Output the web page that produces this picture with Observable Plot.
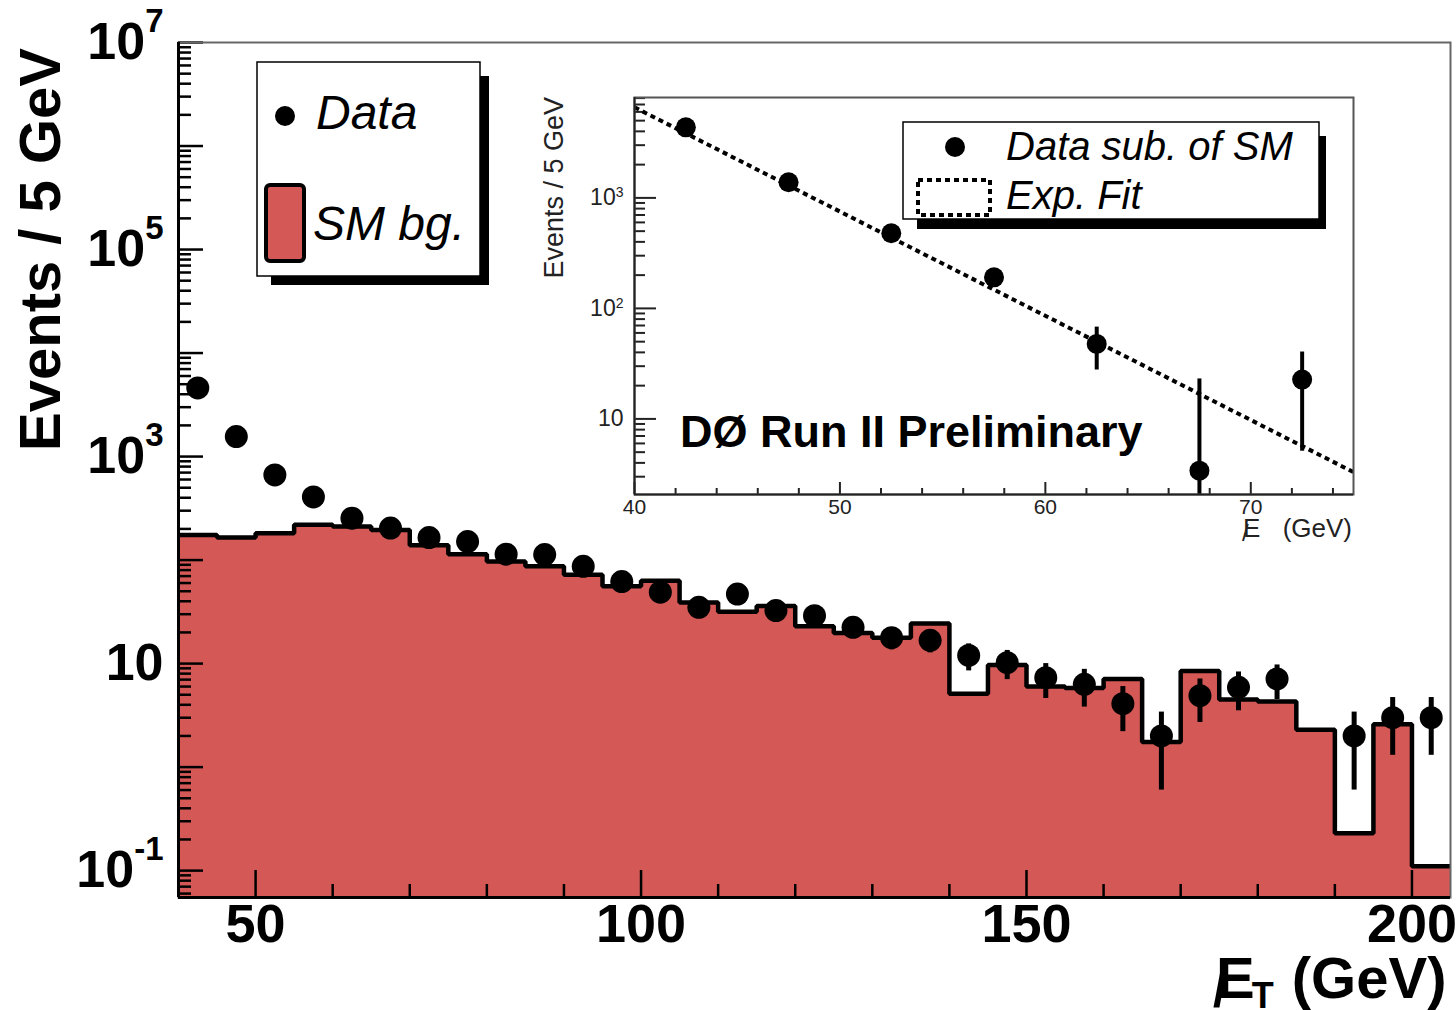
<!DOCTYPE html>
<html>
<head>
<meta charset="utf-8">
<script src="https://cdn.jsdelivr.net/npm/d3@7"></script>
<script src="https://cdn.jsdelivr.net/npm/@observablehq/plot@0.6"></script>
<style>
  body { margin: 0; background: #fff; }
  #wrap { position: relative; width: 1456px; height: 1010px; overflow: hidden; }
  #inset { position: absolute; left: 520px; top: 85px; }
</style>
</head>
<body>
<div id="wrap"><div id="main"></div><div id="inset"></div></div>
<script>
// ---- Missing-ET spectrum, 5 GeV bins ----
const binLow = [40, 45, 50, 55, 60, 65, 70, 75, 80, 85, 90, 95, 100, 105, 110, 115, 120,
                125, 130, 135, 140, 145, 150, 155, 160, 165, 170, 175, 180, 185, 190, 195, 200];
const binWidth = 5;
// Standard-model background expectation per bin
const smBg = [175, 165, 182, 219, 211, 195, 139, 114, 97, 87, 72, 56, 63, 39, 31.6, 36, 23,
              19.7, 17.8, 24.4, 5.1, 9.7, 6.0, 5.8, 7.1, 1.75, 8.5, 4.5, 4.3, 2.3, 0.23, 2.6, 0.11];
// Observed events per bin (null = empty bin) and their uncertainties
const dataCounts = [4600, 1560, 665, 407, 254, 204, 165, 151, 114, 113, 87, 62, 49, 35, 47, 32.5, 29,
                    22.4, 17.8, 16.8, 12, 10.2, 7.3, 6.3, 4.1, 2.0, 4.9, 5.9, 7.1, null, 2.0, 3.0, 3.0];
const dataErr = [68, 39, 26, 20, 16, 14, 13, 12, 11, 11, 9.4, 7.9, 7, 5.9, 6.9, 5.7, 5.4,
                 4.7, 4.2, 4.1, 3.5, 3.2, 2.7, 2.5, 1.9, 1.4, 2.2, 2.4, 2.6, null, 1.4, 1.7, 1.7];
const xTickLabels = [50, 100, 150, 200];
const yTickLabels = [1e7, 1e5, 1e3, 10, 0.1];

// ---- Inset: data minus SM background, with exponential fit ----
const insetCenters = [42.5, 47.5, 52.5, 57.5, 62.5, 67.5, 72.5];
const insetExcess = [4350, 1384, 479, 191, 47.7, 3.4, 22.7];
const insetErr = [68, 40, 27, 21, 20, 19.6, 17.6];
const fitEnds = [40, 75];
const fitValues = [6600, 3.3];
const insetXTicks = [40, 50, 60, 70];
const insetYTicks = [1000, 100, 10];

const RED = "#d45855";
const FONT = "'Liberation Sans', Arial, Helvetica, sans-serif";

function logTicks(lo, hi) {
  const major = [], minor = [];
  for (let p = -3; p <= 8; p++) {
    const b = Math.pow(10, p);
    if (b >= lo * 0.999 && b <= hi * 1.001) major.push(b);
    for (let m = 2; m < 10; m++) {
      const v = m * b;
      if (v >= lo && v <= hi) minor.push(v);
    }
  }
  return {major, minor};
}

function supLabels(svg, selector, supSize, raise) {
  d3.select(svg).selectAll(selector).each(function () {
    const t = d3.select(this);
    const s = t.text();
    if (!s.includes("^")) return;
    const [base, exp] = s.split("^");
    t.text(base);
    t.append("tspan").attr("dy", -raise).attr("font-size", supSize).text(exp);
  });
}

// ================= main plot =================
const W = 1456, H = 1010;
const mL = 178, mR = 6, mT = 42, mB = 113;
const fw = W - mL - mR, fh = H - mT - mB;
const yMin = 0.055, yMax = 1e7;

const bins = binLow.map((x0, i) => ({
  x0, x1: x0 + binWidth, xc: x0 + binWidth / 2,
  bg: smBg[i], n: dataCounts[i], e: dataErr[i]
}));
const steps = bins.flatMap(b => [{x: b.x0, y: b.bg}, {x: b.x1, y: b.bg}]);
const pts = bins.filter(b => b.n != null);

const yt = logTicks(yMin, yMax);
const xMajor = xTickLabels;
const xMinor = d3.range(60, 205, 10).filter(v => v % 50 !== 0);

const main = Plot.plot({
  width: W, height: H,
  marginLeft: mL, marginRight: mR, marginTop: mT, marginBottom: mB,
  style: {background: "transparent", overflow: "visible", fontFamily: FONT},
  x: {domain: [40, 205]},
  y: {type: "log", domain: [yMin, yMax]},
  marks: [
    Plot.areaY(steps, {x: "x", y1: yMin, y2: "y", fill: RED}),
    Plot.ruleY(yt.minor, {stroke: "#000", strokeWidth: 2.5, insetRight: fw - 13}),
    Plot.ruleY(yt.major, {stroke: "#000", strokeWidth: 2.5, insetRight: fw - 25}),
    Plot.ruleX(xMinor, {stroke: "#000", strokeWidth: 2.5, insetTop: fh - 13}),
    Plot.ruleX(xMajor, {stroke: "#000", strokeWidth: 2.5, insetTop: fh - 27}),
    Plot.line(steps, {x: "x", y: "y", stroke: "#000", strokeWidth: 4.5,
                      strokeLinejoin: "miter", strokeLinecap: "butt"}),
    Plot.ruleX(pts, {x: "xc", y1: d => Math.max(d.n - d.e, yMin), y2: d => d.n + d.e,
                     stroke: "#000", strokeWidth: 5}),
    Plot.dot(pts, {x: "xc", y: "n", r: 11.5, fill: "#000"}),
    Plot.frame({stroke: "#666", strokeWidth: 2}),
    Plot.ruleX([40], {stroke: "#000", strokeWidth: 3}),
    Plot.ruleY([yMin], {stroke: "#000", strokeWidth: 3}),
    Plot.axisX({ticks: xTickLabels, tickSize: 0, tickPadding: 6, label: null,
                fontSize: 54, fontWeight: "bold", tickFormat: d => String(d)}),
    Plot.axisY({ticks: yTickLabels, tickSize: 0, tickPadding: 15, label: null,
                fontSize: 52, fontWeight: "bold",
                tickFormat: d => {
                  const p = Math.round(Math.log10(d));
                  return p === 1 ? "10" : "10^" + p;
                }})
  ]
});
document.getElementById("main").appendChild(main);
supLabels(main, 'g[aria-label="y-axis tick label"] text', 33, 27);

const g = d3.select(main).append("g")
  .attr("font-family", FONT).attr("fill", "#000").attr("text-anchor", "start");
// y-axis title
g.append("text")
  .attr("transform", "translate(60,48) rotate(-90)")
  .attr("text-anchor", "end").attr("font-size", 58).attr("font-weight", "bold")
  .text("Events / 5 GeV");
// x-axis title: missing E_T
const xt = g.append("text").attr("x", 1216).attr("y", 998)
  .attr("font-size", 58).attr("font-weight", "bold");
xt.append("tspan").text("E");
xt.append("tspan").attr("font-size", 36).attr("dy", 10).attr("dx", -3).text("T");
xt.append("tspan").attr("dy", -10).attr("dx", 2).text(" (GeV)");
g.append("text").attr("x", 1213).attr("y", 1006).attr("font-size", 50)
  .attr("font-weight", "bold").text("/");

// legend
g.append("rect").attr("x", 271).attr("y", 76).attr("width", 218).attr("height", 209).attr("fill", "#000");
g.append("rect").attr("x", 257).attr("y", 62).attr("width", 223).attr("height", 214)
  .attr("fill", "#fff").attr("stroke", "#000").attr("stroke-width", 1.5);
g.append("circle").attr("cx", 285).attr("cy", 116).attr("r", 10).attr("fill", "#000");
g.append("text").attr("x", 316).attr("y", 129).attr("font-size", 48)
  .attr("font-style", "italic").text("Data");
g.append("rect").attr("x", 266).attr("y", 185).attr("width", 38).attr("height", 76).attr("rx", 4)
  .attr("fill", RED).attr("stroke", "#000").attr("stroke-width", 4);
g.append("text").attr("x", 313).attr("y", 240).attr("font-size", 48)
  .attr("font-style", "italic").text("SM bg.");

// ================= inset =================
const iLeft = 520, iTop = 85;
const iW = 840, iH = 465;
const iL = 634 - iLeft, iR = iW - (1353 - iLeft), iT = 97 - iTop, iB = iH - (494 - iTop);
const ifw = iW - iL - iR, ifh = iH - iT - iB;
const iyMin = 2.07, iyMax = 8100;
const iyt = logTicks(iyMin, iyMax);
const ixMinor = d3.range(42, 75, 2).filter(v => v % 10 !== 0);

const insetPts = insetCenters.map((x, i) => ({x, v: insetExcess[i], e: insetErr[i]}));
const fitLine = fitEnds.map((x, i) => ({x, v: fitValues[i]}));

const inset = Plot.plot({
  width: iW, height: iH,
  marginLeft: iL, marginRight: iR, marginTop: iT, marginBottom: iB,
  style: {background: "transparent", overflow: "visible", fontFamily: FONT},
  x: {domain: [40, 75]},
  y: {type: "log", domain: [iyMin, iyMax]},
  marks: [
    Plot.frame({fill: "#fff", stroke: "none"}),
    Plot.ruleY(iyt.minor, {stroke: "#222", strokeWidth: 2, insetRight: ifw - 11}),
    Plot.ruleY(iyt.major, {stroke: "#222", strokeWidth: 2, insetRight: ifw - 22}),
    Plot.ruleX(ixMinor, {stroke: "#222", strokeWidth: 2, insetTop: ifh - 6}),
    Plot.ruleX(insetXTicks, {stroke: "#222", strokeWidth: 2, insetTop: ifh - 12}),
    Plot.line(fitLine, {x: "x", y: "v", stroke: "#000", strokeWidth: 4,
                        strokeDasharray: "5,4", strokeLinecap: "butt", clip: true}),
    Plot.ruleX(insetPts, {x: "x", y1: d => Math.max(d.v - d.e, iyMin), y2: d => d.v + d.e,
                          stroke: "#000", strokeWidth: 4}),
    Plot.dot(insetPts, {x: "x", y: "v", r: 10, fill: "#000"}),
    Plot.frame({stroke: "#555", strokeWidth: 2}),
    Plot.ruleX([40], {stroke: "#222", strokeWidth: 2}),
    Plot.ruleY([iyMin], {stroke: "#222", strokeWidth: 2}),
    Plot.axisX({ticks: insetXTicks, tickSize: 0, tickPadding: 5, label: null,
                fontSize: 21, fill: "#222", tickFormat: d => String(d)}),
    Plot.axisY({ticks: insetYTicks, tickSize: 0, tickPadding: 11, label: null,
                fontSize: 23, fill: "#222",
                tickFormat: d => {
                  const p = Math.round(Math.log10(d));
                  return p === 1 ? "10" : "10^" + p;
                }})
  ]
});
document.getElementById("inset").appendChild(inset);
supLabels(inset, 'g[aria-label="y-axis tick label"] text', 14, 8);

const ig = d3.select(inset).append("g")
  .attr("transform", `translate(${-iLeft},${-iTop})`)
  .attr("font-family", FONT).attr("fill", "#000").attr("text-anchor", "start");
// inset axis titles
ig.append("text").attr("transform", "translate(563,97) rotate(-90)")
  .attr("text-anchor", "end").attr("font-size", 27).attr("fill", "#222").text("Events / 5 GeV");
ig.append("text").attr("x", 1243).attr("y", 537).attr("font-size", 26).attr("fill", "#222").text("E");
ig.append("text").attr("x", 1242).attr("y", 541).attr("font-size", 24).attr("fill", "#222").text("/");
ig.append("text").attr("x", 1352).attr("y", 537).attr("text-anchor", "end")
  .attr("font-size", 26).attr("fill", "#222").text("(GeV)");
// inset legend
ig.append("rect").attr("x", 917).attr("y", 136).attr("width", 409).attr("height", 93).attr("fill", "#000");
ig.append("rect").attr("x", 903).attr("y", 122).attr("width", 416).attr("height", 97)
  .attr("fill", "#fff").attr("stroke", "#000").attr("stroke-width", 1.5);
ig.append("circle").attr("cx", 955).attr("cy", 147).attr("r", 10).attr("fill", "#000");
ig.append("text").attr("x", 1006).attr("y", 160).attr("font-size", 40)
  .attr("font-style", "italic").text("Data sub. of SM");
ig.append("rect").attr("x", 918).attr("y", 180).attr("width", 72).attr("height", 35)
  .attr("fill", "none").attr("stroke", "#000").attr("stroke-width", 4).attr("stroke-dasharray", "5,4");
ig.append("text").attr("x", 1006).attr("y", 209).attr("font-size", 40)
  .attr("font-style", "italic").text("Exp. Fit");
// experiment label
ig.append("text").attr("x", 680).attr("y", 447).attr("font-size", 45)
  .attr("font-weight", "bold").text("DØ Run II Preliminary");
</script>
</body>
</html>
